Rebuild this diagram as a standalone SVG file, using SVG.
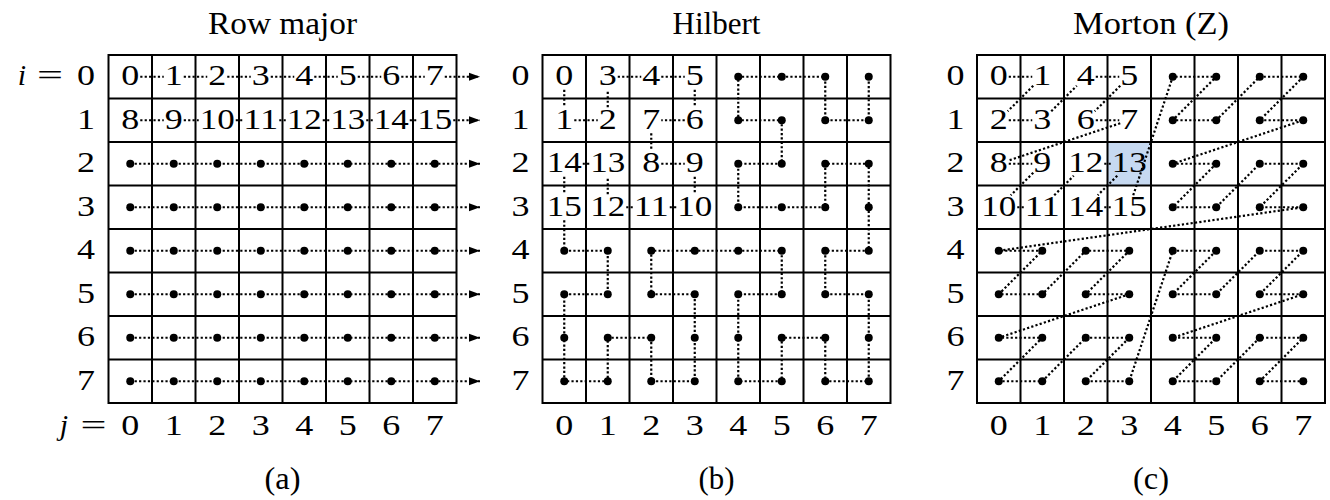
<svg xmlns="http://www.w3.org/2000/svg" width="1330" height="500" viewBox="0 0 1330 500">
<style>
text{font-family:"Liberation Serif","DejaVu Serif",serif;font-size:30px;fill:#000;text-anchor:middle}
.tt{font-size:32px}
.it{font-style:italic}
.grid{fill:none;stroke:#000;stroke-width:2}
.dl{fill:none;stroke:#000;stroke-width:2.2;stroke-dasharray:2.2 2.2}
.dot{fill:#000}
</style>
<defs>
<marker id="ah" markerUnits="userSpaceOnUse" markerWidth="13" markerHeight="10" refX="11" refY="4.5" orient="auto">
<path d="M0,0.5 L11,4.5 L0,8.5 z" fill="#000" stroke="none"/>
</marker>
<circle id="d" r="4" class="dot"/>
</defs>
<rect width="1330" height="500" fill="#fff"/>

<!-- ========== (a) Row major ========== -->
<g id="panel-a">
<text class="tt" x="282.5" y="34" textLength="149" lengthAdjust="spacingAndGlyphs">Row major</text>
<path class="grid" d="M108.5,55H456.5V403H108.5Z M152,55V403 M195.5,55V403 M239,55V403 M282.5,55V403 M326,55V403 M369.5,55V403 M413,55V403 M108.5,98.5H456.5 M108.5,142H456.5 M108.5,185.5H456.5 M108.5,229H456.5 M108.5,272.5H456.5 M108.5,316H456.5 M108.5,359.5H456.5"/>
<g id="a-rowlabels" lengthAdjust="spacingAndGlyphs">
<text class="it" x="22" y="85.25">i</text><text x="50" y="85.25" textLength="26" lengthAdjust="spacingAndGlyphs">=</text>
<text x="86" y="85.25" textLength="18" lengthAdjust="spacingAndGlyphs">0</text><text x="86" y="128.75" textLength="18" lengthAdjust="spacingAndGlyphs">1</text><text x="86" y="172.25" textLength="18" lengthAdjust="spacingAndGlyphs">2</text><text x="86" y="215.75" textLength="18" lengthAdjust="spacingAndGlyphs">3</text><text x="86" y="259.25" textLength="18" lengthAdjust="spacingAndGlyphs">4</text><text x="86" y="302.75" textLength="18" lengthAdjust="spacingAndGlyphs">5</text><text x="86" y="346.25" textLength="18" lengthAdjust="spacingAndGlyphs">6</text><text x="86" y="389.75" textLength="18" lengthAdjust="spacingAndGlyphs">7</text>
</g>
<g id="a-collabels">
<text class="it" x="64" y="435">j</text><text x="93.5" y="435" textLength="26" lengthAdjust="spacingAndGlyphs">=</text>
<text x="130.25" y="435" textLength="18" lengthAdjust="spacingAndGlyphs">0</text><text x="173.75" y="435" textLength="18" lengthAdjust="spacingAndGlyphs">1</text><text x="217.25" y="435" textLength="18" lengthAdjust="spacingAndGlyphs">2</text><text x="260.75" y="435" textLength="18" lengthAdjust="spacingAndGlyphs">3</text><text x="304.25" y="435" textLength="18" lengthAdjust="spacingAndGlyphs">4</text><text x="347.75" y="435" textLength="18" lengthAdjust="spacingAndGlyphs">5</text><text x="391.25" y="435" textLength="18" lengthAdjust="spacingAndGlyphs">6</text><text x="434.75" y="435" textLength="18" lengthAdjust="spacingAndGlyphs">7</text>
</g>
<g id="a-cells">
<text x="130.25" y="85.25" textLength="18" lengthAdjust="spacingAndGlyphs">0</text><text x="173.75" y="85.25" textLength="18" lengthAdjust="spacingAndGlyphs">1</text><text x="217.25" y="85.25" textLength="18" lengthAdjust="spacingAndGlyphs">2</text><text x="260.75" y="85.25" textLength="18" lengthAdjust="spacingAndGlyphs">3</text><text x="304.25" y="85.25" textLength="18" lengthAdjust="spacingAndGlyphs">4</text><text x="347.75" y="85.25" textLength="18" lengthAdjust="spacingAndGlyphs">5</text><text x="391.25" y="85.25" textLength="18" lengthAdjust="spacingAndGlyphs">6</text><text x="434.75" y="85.25" textLength="18" lengthAdjust="spacingAndGlyphs">7</text>
<text x="130.25" y="128.75" textLength="18" lengthAdjust="spacingAndGlyphs">8</text><text x="173.75" y="128.75" textLength="18" lengthAdjust="spacingAndGlyphs">9</text><text x="217.25" y="128.75" textLength="35" lengthAdjust="spacingAndGlyphs">10</text><text x="260.75" y="128.75" textLength="35" lengthAdjust="spacingAndGlyphs">11</text><text x="304.25" y="128.75" textLength="35" lengthAdjust="spacingAndGlyphs">12</text><text x="347.75" y="128.75" textLength="35" lengthAdjust="spacingAndGlyphs">13</text><text x="391.25" y="128.75" textLength="35" lengthAdjust="spacingAndGlyphs">14</text><text x="434.75" y="128.75" textLength="35" lengthAdjust="spacingAndGlyphs">15</text>
</g>
<g id="a-connectors">
<path class="dl" d="M140.25,76.75H163.75 M183.75,76.75H207.25 M227.25,76.75H250.75 M270.75,76.75H294.25 M314.25,76.75H337.75 M357.75,76.75H381.25 M401.25,76.75H424.75"/>
<path class="dl" marker-end="url(#ah)" d="M444.75,76.75H480"/>
<path class="dl" d="M140.25,120.25H163.75 M183.75,120.25H198.75 M235.75,120.25H242.25 M279.25,120.25H285.75 M322.75,120.25H329.25 M366.25,120.25H372.75 M409.75,120.25H416.25"/>
<path class="dl" marker-end="url(#ah)" d="M453.25,120.25H480"/>
<path class="dl" marker-end="url(#ah)" d="M130.25,163.75H480"/>
<path class="dl" marker-end="url(#ah)" d="M130.25,207.25H480"/>
<path class="dl" marker-end="url(#ah)" d="M130.25,250.75H480"/>
<path class="dl" marker-end="url(#ah)" d="M130.25,294.25H480"/>
<path class="dl" marker-end="url(#ah)" d="M130.25,337.75H480"/>
<path class="dl" marker-end="url(#ah)" d="M130.25,381.25H480"/>
</g>
<g id="a-dots">
<use href="#d" x="130.25" y="163.75"/><use href="#d" x="173.75" y="163.75"/><use href="#d" x="217.25" y="163.75"/><use href="#d" x="260.75" y="163.75"/><use href="#d" x="304.25" y="163.75"/><use href="#d" x="347.75" y="163.75"/><use href="#d" x="391.25" y="163.75"/><use href="#d" x="434.75" y="163.75"/>
<use href="#d" x="130.25" y="207.25"/><use href="#d" x="173.75" y="207.25"/><use href="#d" x="217.25" y="207.25"/><use href="#d" x="260.75" y="207.25"/><use href="#d" x="304.25" y="207.25"/><use href="#d" x="347.75" y="207.25"/><use href="#d" x="391.25" y="207.25"/><use href="#d" x="434.75" y="207.25"/>
<use href="#d" x="130.25" y="250.75"/><use href="#d" x="173.75" y="250.75"/><use href="#d" x="217.25" y="250.75"/><use href="#d" x="260.75" y="250.75"/><use href="#d" x="304.25" y="250.75"/><use href="#d" x="347.75" y="250.75"/><use href="#d" x="391.25" y="250.75"/><use href="#d" x="434.75" y="250.75"/>
<use href="#d" x="130.25" y="294.25"/><use href="#d" x="173.75" y="294.25"/><use href="#d" x="217.25" y="294.25"/><use href="#d" x="260.75" y="294.25"/><use href="#d" x="304.25" y="294.25"/><use href="#d" x="347.75" y="294.25"/><use href="#d" x="391.25" y="294.25"/><use href="#d" x="434.75" y="294.25"/>
<use href="#d" x="130.25" y="337.75"/><use href="#d" x="173.75" y="337.75"/><use href="#d" x="217.25" y="337.75"/><use href="#d" x="260.75" y="337.75"/><use href="#d" x="304.25" y="337.75"/><use href="#d" x="347.75" y="337.75"/><use href="#d" x="391.25" y="337.75"/><use href="#d" x="434.75" y="337.75"/>
<use href="#d" x="130.25" y="381.25"/><use href="#d" x="173.75" y="381.25"/><use href="#d" x="217.25" y="381.25"/><use href="#d" x="260.75" y="381.25"/><use href="#d" x="304.25" y="381.25"/><use href="#d" x="347.75" y="381.25"/><use href="#d" x="391.25" y="381.25"/><use href="#d" x="434.75" y="381.25"/>
</g>
<text class="tt" x="282.5" y="489" textLength="36" lengthAdjust="spacingAndGlyphs">(a)</text>
</g>

<!-- ========== (b) Hilbert ========== -->
<g id="panel-b">
<text class="tt" x="716.5" y="34" textLength="88" lengthAdjust="spacingAndGlyphs">Hilbert</text>
<path class="grid" d="M542.5,55H890.5V403H542.5Z M586,55V403 M629.5,55V403 M673,55V403 M716.5,55V403 M760,55V403 M803.5,55V403 M847,55V403 M542.5,98.5H890.5 M542.5,142H890.5 M542.5,185.5H890.5 M542.5,229H890.5 M542.5,272.5H890.5 M542.5,316H890.5 M542.5,359.5H890.5"/>
<g id="b-rowlabels">
<text x="520.5" y="85.25" textLength="18" lengthAdjust="spacingAndGlyphs">0</text><text x="520.5" y="128.75" textLength="18" lengthAdjust="spacingAndGlyphs">1</text><text x="520.5" y="172.25" textLength="18" lengthAdjust="spacingAndGlyphs">2</text><text x="520.5" y="215.75" textLength="18" lengthAdjust="spacingAndGlyphs">3</text><text x="520.5" y="259.25" textLength="18" lengthAdjust="spacingAndGlyphs">4</text><text x="520.5" y="302.75" textLength="18" lengthAdjust="spacingAndGlyphs">5</text><text x="520.5" y="346.25" textLength="18" lengthAdjust="spacingAndGlyphs">6</text><text x="520.5" y="389.75" textLength="18" lengthAdjust="spacingAndGlyphs">7</text>
</g>
<g id="b-collabels">
<text x="564.25" y="435" textLength="18" lengthAdjust="spacingAndGlyphs">0</text><text x="607.75" y="435" textLength="18" lengthAdjust="spacingAndGlyphs">1</text><text x="651.25" y="435" textLength="18" lengthAdjust="spacingAndGlyphs">2</text><text x="694.75" y="435" textLength="18" lengthAdjust="spacingAndGlyphs">3</text><text x="738.25" y="435" textLength="18" lengthAdjust="spacingAndGlyphs">4</text><text x="781.75" y="435" textLength="18" lengthAdjust="spacingAndGlyphs">5</text><text x="825.25" y="435" textLength="18" lengthAdjust="spacingAndGlyphs">6</text><text x="868.75" y="435" textLength="18" lengthAdjust="spacingAndGlyphs">7</text>
</g>
<g id="b-cells">
<text x="564.25" y="85.25" textLength="18" lengthAdjust="spacingAndGlyphs">0</text><text x="564.25" y="128.75" textLength="18" lengthAdjust="spacingAndGlyphs">1</text><text x="607.75" y="128.75" textLength="18" lengthAdjust="spacingAndGlyphs">2</text><text x="607.75" y="85.25" textLength="18" lengthAdjust="spacingAndGlyphs">3</text>
<text x="651.25" y="85.25" textLength="18" lengthAdjust="spacingAndGlyphs">4</text><text x="694.75" y="85.25" textLength="18" lengthAdjust="spacingAndGlyphs">5</text><text x="694.75" y="128.75" textLength="18" lengthAdjust="spacingAndGlyphs">6</text><text x="651.25" y="128.75" textLength="18" lengthAdjust="spacingAndGlyphs">7</text>
<text x="651.25" y="172.25" textLength="18" lengthAdjust="spacingAndGlyphs">8</text><text x="694.75" y="172.25" textLength="18" lengthAdjust="spacingAndGlyphs">9</text><text x="694.75" y="215.75" textLength="35" lengthAdjust="spacingAndGlyphs">10</text><text x="651.25" y="215.75" textLength="35" lengthAdjust="spacingAndGlyphs">11</text>
<text x="607.75" y="215.75" textLength="35" lengthAdjust="spacingAndGlyphs">12</text><text x="607.75" y="172.25" textLength="35" lengthAdjust="spacingAndGlyphs">13</text><text x="564.25" y="172.25" textLength="35" lengthAdjust="spacingAndGlyphs">14</text><text x="564.25" y="215.75" textLength="35" lengthAdjust="spacingAndGlyphs">15</text>
</g>
<g id="b-connectors">
<path class="dl" d="M564.25,89.75V107.25 M574.25,120.25H597.75 M607.75,107.25V89.75 M617.75,76.75H641.25 M661.25,76.75H684.75 M694.75,89.75V107.25 M684.75,120.25H661.25 M651.25,133.25V150.75 M661.25,163.75H684.75 M694.75,176.75V194.25 M676.25,207.25H669.75 M632.75,207.25H626.25 M607.75,194.25V176.75 M589.25,163.75H582.75 M564.25,176.75V194.25"/>
<polyline class="dl" points="564.25,220.25 564.25,250.75 607.75,250.75 607.75,294.25 564.25,294.25 564.25,337.75 564.25,381.25 607.75,381.25 607.75,337.75 651.25,337.75 651.25,381.25 694.75,381.25 694.75,337.75 694.75,294.25 651.25,294.25 651.25,250.75 694.75,250.75 738.25,250.75 781.75,250.75 781.75,294.25 738.25,294.25 738.25,337.75 738.25,381.25 781.75,381.25 781.75,337.75 825.25,337.75 825.25,381.25 868.75,381.25 868.75,337.75 868.75,294.25 825.25,294.25 825.25,250.75 868.75,250.75 868.75,207.25 868.75,163.75 825.25,163.75 825.25,207.25 781.75,207.25 738.25,207.25 738.25,163.75 781.75,163.75 781.75,120.25 738.25,120.25 738.25,76.75 781.75,76.75 825.25,76.75 825.25,120.25 868.75,120.25 868.75,76.75"/>
</g>
<g id="b-dots">
<use href="#d" x="738.25" y="76.75"/><use href="#d" x="781.75" y="76.75"/><use href="#d" x="825.25" y="76.75"/><use href="#d" x="868.75" y="76.75"/>
<use href="#d" x="738.25" y="120.25"/><use href="#d" x="781.75" y="120.25"/><use href="#d" x="825.25" y="120.25"/><use href="#d" x="868.75" y="120.25"/>
<use href="#d" x="738.25" y="163.75"/><use href="#d" x="781.75" y="163.75"/><use href="#d" x="825.25" y="163.75"/><use href="#d" x="868.75" y="163.75"/>
<use href="#d" x="738.25" y="207.25"/><use href="#d" x="781.75" y="207.25"/><use href="#d" x="825.25" y="207.25"/><use href="#d" x="868.75" y="207.25"/>
<use href="#d" x="564.25" y="250.75"/><use href="#d" x="607.75" y="250.75"/><use href="#d" x="651.25" y="250.75"/><use href="#d" x="694.75" y="250.75"/><use href="#d" x="738.25" y="250.75"/><use href="#d" x="781.75" y="250.75"/><use href="#d" x="825.25" y="250.75"/><use href="#d" x="868.75" y="250.75"/>
<use href="#d" x="564.25" y="294.25"/><use href="#d" x="607.75" y="294.25"/><use href="#d" x="651.25" y="294.25"/><use href="#d" x="694.75" y="294.25"/><use href="#d" x="738.25" y="294.25"/><use href="#d" x="781.75" y="294.25"/><use href="#d" x="825.25" y="294.25"/><use href="#d" x="868.75" y="294.25"/>
<use href="#d" x="564.25" y="337.75"/><use href="#d" x="607.75" y="337.75"/><use href="#d" x="651.25" y="337.75"/><use href="#d" x="694.75" y="337.75"/><use href="#d" x="738.25" y="337.75"/><use href="#d" x="781.75" y="337.75"/><use href="#d" x="825.25" y="337.75"/><use href="#d" x="868.75" y="337.75"/>
<use href="#d" x="564.25" y="381.25"/><use href="#d" x="607.75" y="381.25"/><use href="#d" x="651.25" y="381.25"/><use href="#d" x="694.75" y="381.25"/><use href="#d" x="738.25" y="381.25"/><use href="#d" x="781.75" y="381.25"/><use href="#d" x="825.25" y="381.25"/><use href="#d" x="868.75" y="381.25"/>
</g>
<text class="tt" x="716.5" y="489" textLength="36" lengthAdjust="spacingAndGlyphs">(b)</text>
</g>

<!-- ========== (c) Morton (Z) ========== -->
<g id="panel-c">
<text class="tt" x="1151" y="34" textLength="156" lengthAdjust="spacingAndGlyphs">Morton (Z)</text>
<rect id="c-highlight" x="1107.5" y="142" width="43.5" height="43.5" fill="#c6d9f1" stroke="#444" stroke-width="1" stroke-dasharray="1.5 1.5"/>
<path class="grid" d="M977,55H1325V403H977Z M1020.5,55V403 M1064,55V403 M1107.5,55V403 M1151,55V403 M1194.5,55V403 M1238,55V403 M1281.5,55V403 M977,98.5H1325 M977,142H1325 M977,185.5H1325 M977,229H1325 M977,272.5H1325 M977,316H1325 M977,359.5H1325"/>
<g id="c-rowlabels">
<text x="955.5" y="85.25" textLength="18" lengthAdjust="spacingAndGlyphs">0</text><text x="955.5" y="128.75" textLength="18" lengthAdjust="spacingAndGlyphs">1</text><text x="955.5" y="172.25" textLength="18" lengthAdjust="spacingAndGlyphs">2</text><text x="955.5" y="215.75" textLength="18" lengthAdjust="spacingAndGlyphs">3</text><text x="955.5" y="259.25" textLength="18" lengthAdjust="spacingAndGlyphs">4</text><text x="955.5" y="302.75" textLength="18" lengthAdjust="spacingAndGlyphs">5</text><text x="955.5" y="346.25" textLength="18" lengthAdjust="spacingAndGlyphs">6</text><text x="955.5" y="389.75" textLength="18" lengthAdjust="spacingAndGlyphs">7</text>
</g>
<g id="c-collabels">
<text x="998.75" y="435" textLength="18" lengthAdjust="spacingAndGlyphs">0</text><text x="1042.25" y="435" textLength="18" lengthAdjust="spacingAndGlyphs">1</text><text x="1085.75" y="435" textLength="18" lengthAdjust="spacingAndGlyphs">2</text><text x="1129.25" y="435" textLength="18" lengthAdjust="spacingAndGlyphs">3</text><text x="1172.75" y="435" textLength="18" lengthAdjust="spacingAndGlyphs">4</text><text x="1216.25" y="435" textLength="18" lengthAdjust="spacingAndGlyphs">5</text><text x="1259.75" y="435" textLength="18" lengthAdjust="spacingAndGlyphs">6</text><text x="1303.25" y="435" textLength="18" lengthAdjust="spacingAndGlyphs">7</text>
</g>
<g id="c-cells">
<text x="998.75" y="85.25" textLength="18" lengthAdjust="spacingAndGlyphs">0</text><text x="1042.25" y="85.25" textLength="18" lengthAdjust="spacingAndGlyphs">1</text><text x="998.75" y="128.75" textLength="18" lengthAdjust="spacingAndGlyphs">2</text><text x="1042.25" y="128.75" textLength="18" lengthAdjust="spacingAndGlyphs">3</text>
<text x="1085.75" y="85.25" textLength="18" lengthAdjust="spacingAndGlyphs">4</text><text x="1129.25" y="85.25" textLength="18" lengthAdjust="spacingAndGlyphs">5</text><text x="1085.75" y="128.75" textLength="18" lengthAdjust="spacingAndGlyphs">6</text><text x="1129.25" y="128.75" textLength="18" lengthAdjust="spacingAndGlyphs">7</text>
<text x="998.75" y="172.25" textLength="18" lengthAdjust="spacingAndGlyphs">8</text><text x="1042.25" y="172.25" textLength="18" lengthAdjust="spacingAndGlyphs">9</text><text x="998.75" y="215.75" textLength="35" lengthAdjust="spacingAndGlyphs">10</text><text x="1042.25" y="215.75" textLength="35" lengthAdjust="spacingAndGlyphs">11</text>
<text x="1085.75" y="172.25" textLength="35" lengthAdjust="spacingAndGlyphs">12</text><text x="1129.25" y="172.25" textLength="35" lengthAdjust="spacingAndGlyphs">13</text><text x="1085.75" y="215.75" textLength="35" lengthAdjust="spacingAndGlyphs">14</text><text x="1129.25" y="215.75" textLength="35" lengthAdjust="spacingAndGlyphs">15</text>
</g>
<g id="c-connectors">
<path class="dl" d="M1008.75,76.75H1032.25 M1033.25,85.75L1007.75,111.25 M1008.75,120.25H1032.25 M1051.25,111.25L1076.75,85.75 M1095.75,76.75H1119.25 M1120.25,85.75L1094.75,111.25 M1095.75,120.25H1119.25 M1120.25,123.25L1007.75,160.75 M1008.75,163.75H1032.25 M1033.25,172.75L1010.75,195.25 M1017.25,207.25H1023.75 M1054.25,195.25L1073.75,175.75 M1104.25,163.75H1110.75 M1117.25,175.75L1097.75,195.25 M1104.25,207.25H1110.75"/>
<polyline class="dl" points="1133.25,195.25 1172.75,76.75 1216.25,76.75 1172.75,120.25 1216.25,120.25 1259.75,76.75 1303.25,76.75 1259.75,120.25 1303.25,120.25 1172.75,163.75 1216.25,163.75 1172.75,207.25 1216.25,207.25 1259.75,163.75 1303.25,163.75 1259.75,207.25 1303.25,207.25 998.75,250.75 1042.25,250.75 998.75,294.25 1042.25,294.25 1085.75,250.75 1129.25,250.75 1085.75,294.25 1129.25,294.25 998.75,337.75 1042.25,337.75 998.75,381.25 1042.25,381.25 1085.75,337.75 1129.25,337.75 1085.75,381.25 1129.25,381.25 1172.75,250.75 1216.25,250.75 1172.75,294.25 1216.25,294.25 1259.75,250.75 1303.25,250.75 1259.75,294.25 1303.25,294.25 1172.75,337.75 1216.25,337.75 1172.75,381.25 1216.25,381.25 1259.75,337.75 1303.25,337.75 1259.75,381.25 1303.25,381.25"/>
</g>
<g id="c-dots">
<use href="#d" x="1172.75" y="76.75"/><use href="#d" x="1216.25" y="76.75"/><use href="#d" x="1259.75" y="76.75"/><use href="#d" x="1303.25" y="76.75"/>
<use href="#d" x="1172.75" y="120.25"/><use href="#d" x="1216.25" y="120.25"/><use href="#d" x="1259.75" y="120.25"/><use href="#d" x="1303.25" y="120.25"/>
<use href="#d" x="1172.75" y="163.75"/><use href="#d" x="1216.25" y="163.75"/><use href="#d" x="1259.75" y="163.75"/><use href="#d" x="1303.25" y="163.75"/>
<use href="#d" x="1172.75" y="207.25"/><use href="#d" x="1216.25" y="207.25"/><use href="#d" x="1259.75" y="207.25"/><use href="#d" x="1303.25" y="207.25"/>
<use href="#d" x="998.75" y="250.75"/><use href="#d" x="1042.25" y="250.75"/><use href="#d" x="1085.75" y="250.75"/><use href="#d" x="1129.25" y="250.75"/><use href="#d" x="1172.75" y="250.75"/><use href="#d" x="1216.25" y="250.75"/><use href="#d" x="1259.75" y="250.75"/><use href="#d" x="1303.25" y="250.75"/>
<use href="#d" x="998.75" y="294.25"/><use href="#d" x="1042.25" y="294.25"/><use href="#d" x="1085.75" y="294.25"/><use href="#d" x="1129.25" y="294.25"/><use href="#d" x="1172.75" y="294.25"/><use href="#d" x="1216.25" y="294.25"/><use href="#d" x="1259.75" y="294.25"/><use href="#d" x="1303.25" y="294.25"/>
<use href="#d" x="998.75" y="337.75"/><use href="#d" x="1042.25" y="337.75"/><use href="#d" x="1085.75" y="337.75"/><use href="#d" x="1129.25" y="337.75"/><use href="#d" x="1172.75" y="337.75"/><use href="#d" x="1216.25" y="337.75"/><use href="#d" x="1259.75" y="337.75"/><use href="#d" x="1303.25" y="337.75"/>
<use href="#d" x="998.75" y="381.25"/><use href="#d" x="1042.25" y="381.25"/><use href="#d" x="1085.75" y="381.25"/><use href="#d" x="1129.25" y="381.25"/><use href="#d" x="1172.75" y="381.25"/><use href="#d" x="1216.25" y="381.25"/><use href="#d" x="1259.75" y="381.25"/><use href="#d" x="1303.25" y="381.25"/>
</g>
<text class="tt" x="1151" y="489" textLength="36" lengthAdjust="spacingAndGlyphs">(c)</text>
</g>
</svg>
